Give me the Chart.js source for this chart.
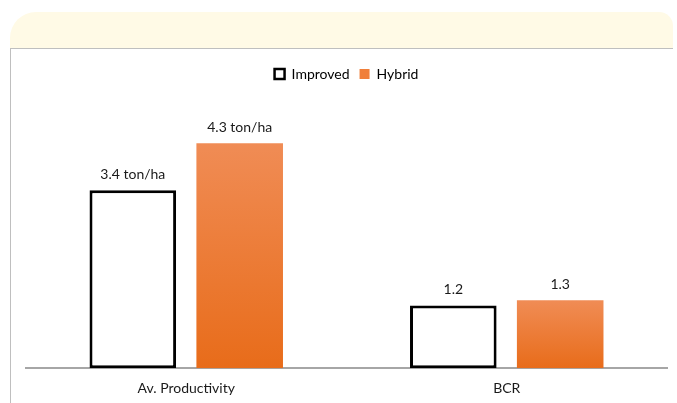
<!DOCTYPE html>
<html>
<head>
<meta charset="utf-8">
<script src="https://cdn.jsdelivr.net/npm/chart.js@4/dist/chart.umd.min.js"></script>
<style>
  html, body { margin: 0; padding: 0; background: #ffffff; overflow: hidden; }
  #wrap { position: relative; width: 677px; height: 403px; overflow: hidden; }
  #band { position: absolute; left: 10px; top: 12px; width: 663px; height: 36px;
          background: #FFFAE6; border-radius: 26px 14px 0 0; }
  #hline { position: absolute; left: 10px; top: 48px; width: 663px; height: 1px; background: #BFBFBF; }
  #vline { position: absolute; left: 10px; top: 48px; width: 1px; height: 360px; background: #BFBFBF; }
  #c { position: absolute; left: 0; top: 0; }
</style>
</head>
<body>
<div id="wrap">
  <div id="band"></div>
  <div id="hline"></div>
  <div id="vline"></div>
  <canvas id="c" width="677" height="415"></canvas>
</div>
<script>
const categories = ['Av. Productivity', 'BCR'];
const seriesNames = ['Improved', 'Hybrid'];
const improvedValues = [3.4, 1.2];
const hybridValues = [4.3, 1.3];
const improvedLabels = ['3.4 ton/ha', '1.2'];
const hybridLabels = ['4.3 ton/ha', '1.3'];

const FONT = 'Lato, "Liberation Sans", sans-serif';

function hybridGradient(ctx) {
  const chart = ctx.chart;
  const area = chart.chartArea;
  if (!area || ctx.type !== 'data') return '#F07F3A';
  const y = chart.scales.y;
  const top = y.getPixelForValue(ctx.raw);
  const base = y.getPixelForValue(0);
  const g = chart.ctx.createLinearGradient(0, top, 0, base);
  g.addColorStop(0, '#F08C55');
  g.addColorStop(1, '#E86C1A');
  return g;
}

const valueLabels = {
  id: 'valueLabels',
  afterDatasetsDraw(chart) {
    const ctx = chart.ctx;
    ctx.save();
    ctx.font = '14px ' + FONT;
    ctx.fillStyle = '#1a1a1a';
    ctx.textAlign = 'center';
    ctx.textBaseline = 'alphabetic';
    const sets = [improvedLabels, hybridLabels];
    chart.data.datasets.forEach((ds, di) => {
      const meta = chart.getDatasetMeta(di);
      meta.data.forEach((bar, i) => {
        ctx.fillText(sets[di][i], bar.x, bar.y - 11);
      });
    });
    ctx.restore();
  }
};

new Chart(document.getElementById('c'), {
  type: 'bar',
  data: {
    labels: categories,
    datasets: [
      {
        label: seriesNames[0],
        data: improvedValues,
        backgroundColor: '#ffffff',
        borderColor: '#000000',
        borderWidth: 3,
        borderSkipped: false,
        categoryPercentage: 0.667,
        barPercentage: 0.81
      },
      {
        label: seriesNames[1],
        data: hybridValues,
        backgroundColor: hybridGradient,
        borderWidth: 0,
        categoryPercentage: 0.667,
        barPercentage: 0.81
      }
    ]
  },
  options: {
    responsive: false,
    animation: false,
    layout: { padding: { top: 57, left: 26, right: 10, bottom: 6 } },
    plugins: {
      tooltip: { enabled: false },
      legend: {
        display: true,
        position: 'top',
        labels: {
          boxWidth: 10,
          boxHeight: 10,
          padding: 10,
          color: '#1a1a1a',
          font: { family: FONT, size: 14 },
          generateLabels() {
            return [
              { text: seriesNames[0], fillStyle: '#ffffff', strokeStyle: '#000000', lineWidth: 2.5, datasetIndex: 0, hidden: false },
              { text: seriesNames[1], fillStyle: '#F07F3A', strokeStyle: '#F07F3A', lineWidth: 0, datasetIndex: 1, hidden: false }
            ];
          }
        }
      }
    },
    scales: {
      x: {
        grid: { display: false, drawTicks: false },
        border: { display: true, color: '#A6A6A6', width: 2 },
        ticks: { color: '#1a1a1a', padding: 12, font: { family: FONT, size: 14 } }
      },
      y: {
        display: false,
        min: 0,
        max: 5.3
      }
    }
  },
  plugins: [valueLabels]
});
</script>
</body>
</html>
